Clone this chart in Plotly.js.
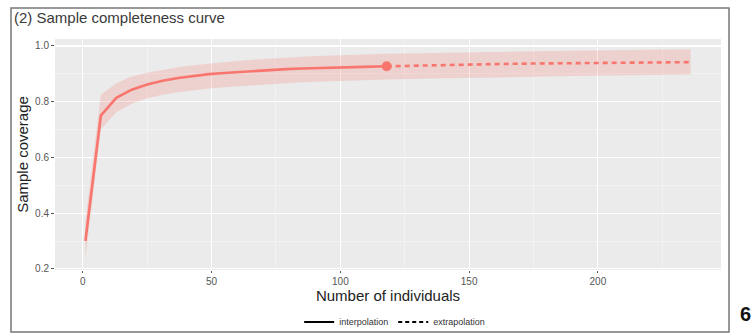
<!DOCTYPE html>
<html>
<head>
<meta charset="utf-8">
<script src="https://cdn.plot.ly/plotly-3.0.1.min.js"></script>
<style>html,body{margin:0;padding:0;background:#fff;}#chart{width:755px;height:334px;}</style>
</head>
<body>
<div id="chart"></div>
<script>
// Interpolation (rarefaction) part
var interpX = [1, 7, 13, 19, 25, 31, 37, 43, 49, 55, 61, 67, 73, 79, 85, 91, 97, 103, 109, 118];
var interpY = [0.300, 0.750, 0.814, 0.843, 0.862, 0.875, 0.885, 0.893, 0.899, 0.903, 0.907, 0.911, 0.914, 0.917, 0.919, 0.921, 0.922, 0.924, 0.925, 0.927];
var interpUpper = [0.370, 0.825, 0.866, 0.890, 0.904, 0.915, 0.924, 0.931, 0.937, 0.943, 0.947, 0.951, 0.955, 0.958, 0.961, 0.964, 0.966, 0.968, 0.970, 0.972];
var interpLower = [0.235, 0.700, 0.762, 0.793, 0.812, 0.825, 0.834, 0.841, 0.847, 0.852, 0.856, 0.860, 0.864, 0.867, 0.870, 0.872, 0.874, 0.876, 0.878, 0.880];
// Extrapolation part
var extrapX = [118, 130, 145, 160, 175, 190, 205, 220, 236];
var extrapY = [0.927, 0.930, 0.933, 0.935, 0.937, 0.938, 0.940, 0.941, 0.942];
var extrapUpper = [0.972, 0.974, 0.977, 0.979, 0.981, 0.983, 0.985, 0.987, 0.988];
var extrapLower = [0.880, 0.882, 0.885, 0.887, 0.890, 0.892, 0.894, 0.896, 0.898];
// Observed sample
var obsX = [118];
var obsY = [0.927];

var xTicks = [0, 50, 100, 150, 200];
var yTicks = [0.2, 0.4, 0.6, 0.8, 1.0];
var yTickText = ['0.2', '0.4', '0.6', '0.8', '1.0'];

var red = '#F8766D';
var band = 'rgba(248,118,109,0.22)';

var allX = interpX.concat(extrapX.slice(1));
var allUpper = interpUpper.concat(extrapUpper.slice(1));
var allLower = interpLower.concat(extrapLower.slice(1));

var traces = [
  {x: allX, y: allLower, mode: 'lines', line: {width: 0}, hoverinfo: 'skip', showlegend: false},
  {x: allX, y: allUpper, mode: 'lines', line: {width: 0}, fill: 'tonexty', fillcolor: band, hoverinfo: 'skip', showlegend: false},
  {x: interpX, y: interpY, mode: 'lines', line: {color: red, width: 2.6}, showlegend: false},
  {x: extrapX, y: extrapY, mode: 'lines', line: {color: red, width: 2.6, dash: '5px,4px'}, showlegend: false},
  {x: obsX, y: obsY, mode: 'markers', marker: {color: red, size: 10}, showlegend: false},
  {x: [null], y: [null], mode: 'lines', name: 'interpolation', line: {color: '#000', width: 2}},
  {x: [null], y: [null], mode: 'lines', name: 'extrapolation', line: {color: '#000', width: 2, dash: '4px,3px'}}
];

var layout = {
  width: 755, height: 334,
  margin: {l: 55, r: 34, t: 39, b: 64, autoexpand: false},
  paper_bgcolor: '#fff',
  plot_bgcolor: '#EBEBEB',
  font: {family: 'Liberation Sans, Arial, sans-serif', color: '#333'},
  title: {text: '(2) Sample completeness curve', x: 14/755, xanchor: 'left', xref: 'container',
          y: 1 - 18/334, yanchor: 'middle', yref: 'container', font: {size: 15, color: '#3a3a3a'}},
  xaxis: {
    range: [-10.8, 247.8], tickvals: xTicks, ticktext: xTicks.map(String),
    showgrid: true, gridcolor: '#fff', gridwidth: 1.1, zeroline: false, showline: false,
    ticks: 'outside', ticklen: 2, tickcolor: '#555', tickfont: {size: 10, color: '#555'},
    minor: {dtick: 25, tick0: 25, showgrid: true, gridcolor: '#f7f7f7', gridwidth: 0.6, ticks: ''},
    title: {text: 'Number of individuals', font: {size: 15, color: '#222'}, standoff: 1}
  },
  yaxis: {
    range: [0.196, 1.025], tickvals: yTicks, ticktext: yTickText,
    showgrid: true, gridcolor: '#fff', gridwidth: 1.1, zeroline: false, showline: false,
    ticks: 'outside', ticklen: 3, tickcolor: '#555', tickfont: {size: 10, color: '#555'},
    minor: {dtick: 0.1, tick0: 0.3, showgrid: true, gridcolor: '#f7f7f7', gridwidth: 0.6, ticks: ''},
    title: {text: 'Sample coverage', font: {size: 15, color: '#222'}, standoff: 2}
  },
  legend: {orientation: 'h', x: 0.51, xanchor: 'center', y: -0.225, yanchor: 'middle',
           traceorder: 'normal',
           font: {size: 9, color: '#333'}, itemwidth: 30, bgcolor: 'rgba(0,0,0,0)', tracegroupgap: 0},
  shapes: [
    {type: 'rect', xref: 'paper', yref: 'paper', x0: (11-55)/666, x1: (729-55)/666,
     y0: (270-332)/231, y1: (270-8)/231, line: {color: '#777', width: 1.5}, fillcolor: 'rgba(0,0,0,0)', layer: 'below'}
  ],
  annotations: [
    {text: '<b>6</b>', xref: 'paper', yref: 'paper', x: (745-55)/666, y: (270-314)/231,
     xanchor: 'center', yanchor: 'middle', showarrow: false, font: {size: 20, color: '#111', family: 'Liberation Sans, Arial, sans-serif'}}
  ]
};

Plotly.newPlot('chart', traces, layout, {displayModeBar: false, staticPlot: true});
</script>
</body>
</html>
